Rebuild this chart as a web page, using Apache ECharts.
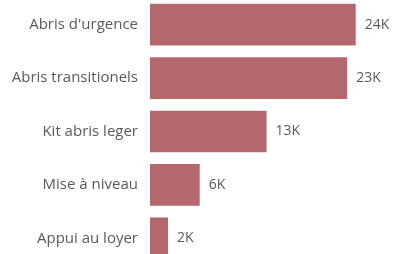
<!DOCTYPE html>
<html><head><meta charset="utf-8">
<script src="https://cdn.jsdelivr.net/npm/echarts@6/dist/echarts.min.js"></script>
<style>html,body{margin:0;padding:0;background:#fff}#c{width:395px;height:254px}</style>
</head><body><div id="c"></div>
<script>
const categories = ["Abris d'urgence", "Abris transitionels", "Kit abris leger", "Mise à niveau", "Appui au loyer"];
const values = [24.0, 23.0, 13.6, 5.8, 2.1];
const valueLabels = ["24K", "23K", "13K", "6K", "2K"];

const chart = echarts.init(document.getElementById('c'), null, {renderer: 'canvas'});
chart.setOption({
  animation: false,
  grid: {left: 150, right: 5, top: -2, bottom: -11, containLabel: false, outerBoundsMode: 'none'},
  xAxis: {type: 'value', min: 0, max: 28, show: false},
  yAxis: {
    type: 'category', data: categories, inverse: true,
    axisLine: {show: false}, axisTick: {show: false},
    axisLabel: {color: '#5a5a5a', fontFamily: 'Open Sans', fontSize: 15, margin: 12}
  },
  series: [{
    type: 'bar', data: values, barCategoryGap: '22%',
    itemStyle: {color: '#b4686e'},
    label: {show: true, position: 'right', distance: 9, color: '#5a5a5a', fontFamily: 'Open Sans', fontSize: 14,
      formatter: p => valueLabels[p.dataIndex]}
  }]
});
</script></body></html>
